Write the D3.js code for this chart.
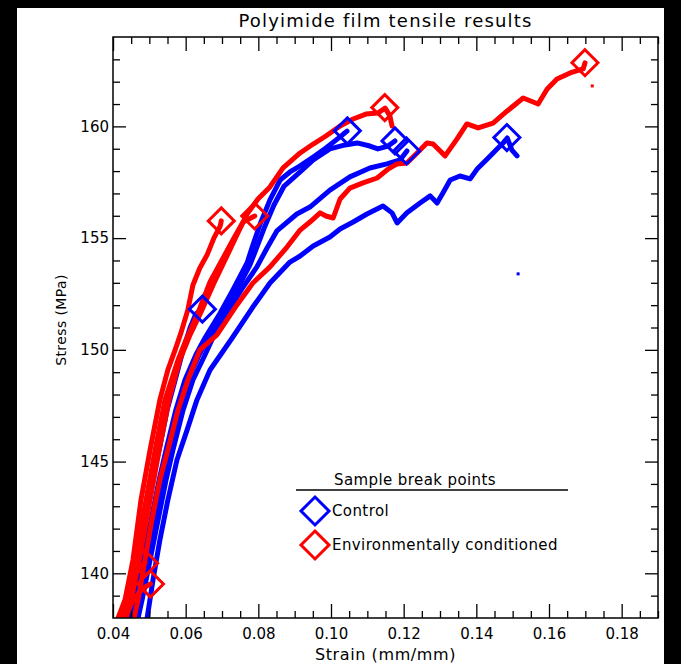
<!DOCTYPE html>
<html><head><meta charset="utf-8">
<script src="https://cdn.jsdelivr.net/npm/d3@7"></script>
<style>body{margin:0;background:#000}svg{display:block}</style>
</head><body><svg id="c" width="681" height="664"></svg>
<script>
// ---------- data ----------
const title = "Polyimide film tensile results";
const xLabel = "Strain (mm/mm)";
const yLabel = "Stress (MPa)";
const xDomain = [0.04, 0.19];
const yDomain = [138, 164];
const xTickValues = [0.04, 0.06, 0.08, 0.10, 0.12, 0.14, 0.16, 0.18];
const xTickLabels = ["0.04", "0.06", "0.08", "0.10", "0.12", "0.14", "0.16", "0.18"];
const yTickValues = [140, 145, 150, 155, 160];
const yTickLabels = ["140", "145", "150", "155", "160"];
const legendTitle = "Sample break points";
const legendLabels = ["Control", "Environmentally conditioned"];

// control samples (blue) [strain, stress]
const control1 = [[0.0441,138.00],[0.0452,138.81],[0.0469,140.60],[0.0488,142.39],[0.0507,144.18],[0.0527,145.52],[0.0549,147.31],[0.0571,148.65],[0.0593,150.00],[0.0612,150.98],[0.0628,151.61],[0.0645,151.83]];
const control2 = [[0.0450,138.00],[0.0463,138.81],[0.0483,140.60],[0.0505,142.39],[0.0527,144.18],[0.0546,145.52],[0.0573,147.31],[0.0598,148.65],[0.0628,149.77],[0.0653,150.53],[0.0695,151.65],[0.0730,152.68],[0.0769,153.89],[0.0785,154.69],[0.0805,155.63],[0.0832,156.71],[0.0860,157.60],[0.0887,157.96],[0.0915,158.23],[0.0951,158.63],[0.0986,159.03],[0.1025,159.53],[0.1044,159.79]];
const control3 = [[0.0455,138.00],[0.0469,138.81],[0.0491,140.60],[0.0513,142.39],[0.0535,144.18],[0.0554,145.52],[0.0582,147.31],[0.0606,148.65],[0.0637,149.77],[0.0661,150.53],[0.0706,151.65],[0.0741,152.68],[0.0777,153.80],[0.0796,154.60],[0.0816,155.45],[0.0843,156.48],[0.0871,157.33],[0.0915,157.96],[0.0951,158.50],[0.0997,158.99],[0.1039,159.17],[0.1072,159.26],[0.1107,159.12],[0.1129,158.99],[0.1157,159.12],[0.1176,159.35]];
const control4 = [[0.0469,138.00],[0.0480,138.81],[0.0502,140.60],[0.0524,142.39],[0.0546,144.18],[0.0565,145.52],[0.0593,147.31],[0.0620,148.65],[0.0653,149.77],[0.0681,150.76],[0.0714,151.65],[0.0758,152.81],[0.0796,153.71],[0.0824,154.56],[0.0851,155.32],[0.0906,156.08],[0.0942,156.39],[0.0997,157.15],[0.1052,157.74],[0.1107,158.14],[0.1154,158.32],[0.1190,158.50],[0.1209,158.90]];
const control5 = [[0.0494,138.00],[0.0510,139.70],[0.0529,141.49],[0.0551,143.28],[0.0576,145.07],[0.0604,146.42],[0.0631,147.76],[0.0667,149.10],[0.0728,150.53],[0.0783,151.87],[0.0832,152.99],[0.0887,153.93],[0.0915,154.20],[0.0951,154.65],[0.0997,155.05],[0.1025,155.41],[0.1061,155.72],[0.1099,156.08],[0.1143,156.44],[0.1168,156.13],[0.1182,155.68],[0.1209,156.13],[0.1245,156.57],[0.1273,156.89],[0.1292,156.57],[0.1308,157.02],[0.1328,157.60],[0.1355,157.78],[0.1383,157.65],[0.1402,158.09],[0.1430,158.54],[0.1457,158.99],[0.1474,159.26],[0.1485,159.48],[0.1498,158.94],[0.1512,158.68]];

// environmentally conditioned samples (red) [strain, stress]
const env1 = [[0.0414,138.00],[0.0433,138.81],[0.0455,140.60],[0.0477,143.28],[0.0502,145.52],[0.0529,147.76],[0.0551,149.10],[0.0571,150.00],[0.0587,150.76],[0.0606,151.79],[0.0620,152.90],[0.0639,153.66],[0.0659,154.25],[0.0678,155.01],[0.0695,155.54],[0.0698,155.77]];
const env2 = [[0.0425,138.00],[0.0439,138.81],[0.0461,140.60],[0.0491,143.28],[0.0516,145.52],[0.0543,147.76],[0.0579,149.55],[0.0601,150.44],[0.0634,151.65],[0.0667,153.04],[0.0700,154.02],[0.0730,154.92],[0.0758,155.72],[0.0790,155.99]];
const env3 = [[0.0436,138.00],[0.0450,138.81],[0.0472,140.60],[0.0502,143.28],[0.0527,145.52],[0.0554,147.76],[0.0584,149.55],[0.0612,150.67],[0.0645,151.79],[0.0678,152.99],[0.0711,154.11],[0.0741,155.14],[0.0769,156.08],[0.0799,156.75],[0.0832,157.29],[0.0868,158.14],[0.0915,158.81],[0.0951,159.21],[0.0986,159.57],[0.1025,160.02],[0.1061,160.33],[0.1096,160.55],[0.1129,160.60],[0.1149,160.82],[0.1162,160.47],[0.1168,160.02]];
const env4 = [[0.0458,138.00],[0.0469,138.81],[0.0488,140.60],[0.0507,142.39],[0.0529,144.18],[0.0551,145.52],[0.0579,147.31],[0.0606,148.65],[0.0639,150.00],[0.0686,150.67],[0.0741,152.01],[0.0785,152.99],[0.0832,153.71],[0.0879,154.60],[0.0915,155.36],[0.0942,155.72],[0.0970,156.13],[0.0986,155.99],[0.1006,155.90],[0.1025,156.75],[0.1052,157.24],[0.1088,157.47],[0.1127,157.69],[0.1157,158.09],[0.1182,158.32],[0.1209,158.36],[0.1237,158.81],[0.1264,159.26],[0.1281,159.21],[0.1314,158.68],[0.1347,159.44],[0.1374,160.11],[0.1405,159.93],[0.1446,160.15],[0.1485,160.69],[0.1529,161.27],[0.1570,161.00],[0.1595,161.67],[0.1622,162.12],[0.1658,162.39],[0.1694,162.57],[0.1699,162.84]];
const env5 = [[0.0419,138.00],[0.0436,138.90],[0.0452,139.70],[0.0469,140.24],[0.0488,140.47]];
const env6 = [[0.0433,138.00],[0.0450,138.63],[0.0469,139.08],[0.0485,139.35],[0.0503,139.53]];

// stray data points
const controlStray = [[0.1515,153.40]];
const envStray = [[0.1719,161.81]];

// break points
const controlBreaks = [[0.0646,151.82],[0.1045,159.80],[0.1176,159.35],[0.1208,158.90],[0.1484,159.50]];
const envBreaks = [[0.0698,155.77],[0.0790,155.99],[0.1148,160.84],[0.1699,162.85],[0.0487,140.45],[0.0503,139.52]];

// ---------- drawing ----------
const controlCurves = [control1, control2, control3, control4, control5];
const envCurves = [env1, env2, env3, env4, env5, env6];
const BLUE = "#0000ff", RED = "#ff0000";
const FONT = "DejaVu Sans, sans-serif";
const L = 113, R = 658, T = 37, B = 618;

const svg = d3.select("#c");
svg.append("rect").attr("x", 0).attr("y", 0).attr("width", 681).attr("height", 664).attr("fill", "#000");
svg.append("rect").attr("x", 17).attr("y", 8).attr("width", 647).attr("height", 656).attr("fill", "#fff");

const x = d3.scaleLinear().domain(xDomain).range([L, R]);
const y = d3.scaleLinear().domain(yDomain).range([B, T]);

const plot = svg.append("g");
const clip = svg.append("clipPath").attr("id", "clip");
clip.append("rect").attr("x", L).attr("y", T).attr("width", R - L).attr("height", B - T);
const curvesG = plot.append("g").attr("clip-path", "url(#clip)");

const line = d3.line().x(d => x(d[0])).y(d => y(d[1])).curve(d3.curveLinear);

function drawCurves(list, color) {
  curvesG.selectAll(null).data(list).enter().append("path")
    .attr("d", line).attr("fill", "none").attr("stroke", color)
    .attr("stroke-width", 5).attr("stroke-linejoin", "round").attr("stroke-linecap", "round");
}
drawCurves(controlCurves, BLUE);
drawCurves(envCurves, RED);

function drawStray(list, color) {
  curvesG.selectAll(null).data(list).enter().append("rect")
    .attr("x", d => x(d[0]) - 1.5).attr("y", d => y(d[1]) - 1.5)
    .attr("width", 3).attr("height", 3).attr("fill", color);
}
drawStray(controlStray, BLUE);
drawStray(envStray, RED);

const H = 13;
const diamond = `M0,${-H}L${H},0L0,${H}L${-H},0Z`;
function drawBreaks(list, color) {
  plot.selectAll(null).data(list).enter().append("path")
    .attr("d", diamond)
    .attr("transform", d => `translate(${x(d[0])},${y(d[1])})`)
    .attr("fill", "none").attr("stroke", color).attr("stroke-width", 3)
    .attr("stroke-linejoin", "miter");
}
drawBreaks(controlBreaks, BLUE);
drawBreaks(envBreaks, RED);

// axes (ticks pointing inward, mirrored on all sides)
const xMinor = d3.range(0.045, 0.19, 0.005).filter(v => !xTickValues.some(t => Math.abs(t - v) < 1e-9));
const yMinor = d3.range(139, 164, 1).filter(v => yTickValues.indexOf(v) < 0);

function styleAxis(g) {
  g.select(".domain").remove();
  g.selectAll("line").attr("stroke", "#000").attr("stroke-width", 1.3);
  g.selectAll("text").attr("fill", "#000").attr("font-family", FONT).attr("font-size", 15);
}

const bottom = svg.append("g").attr("transform", `translate(0,${B})`)
  .call(d3.axisBottom(x).tickValues(xTickValues).tickFormat((d, i) => xTickLabels[i]).tickSize(-14).tickPadding(7));
styleAxis(bottom);
bottom.selectAll("text").attr("dy", "0.71em").attr("y", 10);
svg.append("g").attr("transform", `translate(0,${B})`)
  .call(d3.axisBottom(x).tickValues(xMinor).tickFormat("").tickSize(-7)).call(styleAxis);
svg.append("g").attr("transform", `translate(0,${T})`)
  .call(d3.axisTop(x).tickValues(xTickValues).tickFormat("").tickSize(-14)).call(styleAxis);
svg.append("g").attr("transform", `translate(0,${T})`)
  .call(d3.axisTop(x).tickValues(xMinor).tickFormat("").tickSize(-7)).call(styleAxis);

const left = svg.append("g").attr("transform", `translate(${L},0)`)
  .call(d3.axisLeft(y).tickValues(yTickValues).tickFormat((d, i) => yTickLabels[i]).tickSize(-13).tickPadding(4));
styleAxis(left);
svg.append("g").attr("transform", `translate(${L},0)`)
  .call(d3.axisLeft(y).tickValues(yMinor).tickFormat("").tickSize(-7)).call(styleAxis);
svg.append("g").attr("transform", `translate(${R},0)`)
  .call(d3.axisRight(y).tickValues(yTickValues).tickFormat("").tickSize(-13)).call(styleAxis);
svg.append("g").attr("transform", `translate(${R},0)`)
  .call(d3.axisRight(y).tickValues(yMinor).tickFormat("").tickSize(-7)).call(styleAxis);

svg.append("rect").attr("x", L).attr("y", T).attr("width", R - L).attr("height", B - T)
  .attr("fill", "none").attr("stroke", "#000").attr("stroke-width", 1.5);

// titles
svg.append("text").attr("x", (L + R) / 2).attr("y", 27).attr("text-anchor", "middle")
  .attr("font-family", FONT).attr("font-size", 18).attr("letter-spacing", 1.2).text(title);
svg.append("text").attr("x", (L + R) / 2).attr("y", 660).attr("text-anchor", "middle")
  .attr("font-family", FONT).attr("font-size", 16).attr("letter-spacing", 0.6).text(xLabel);
svg.append("text").attr("transform", `translate(66,320) rotate(-90)`).attr("text-anchor", "middle")
  .attr("font-family", FONT).attr("font-size", 14).attr("letter-spacing", 0.4).text(yLabel);

// legend
const lg = svg.append("g");
lg.append("text").attr("x", 415).attr("y", 485).attr("text-anchor", "middle")
  .attr("font-family", FONT).attr("font-size", 15).attr("letter-spacing", 0.4).text(legendTitle);
lg.append("line").attr("x1", 296).attr("x2", 568).attr("y1", 490).attr("y2", 490)
  .attr("stroke", "#000").attr("stroke-width", 1.5);
const legendColors = [BLUE, RED];
const legendY = [511, 545];
legendLabels.forEach((lab, i) => {
  lg.append("path").attr("d", `M0,-14L14,0L0,14L-14,0Z`).attr("transform", `translate(315,${legendY[i]})`)
    .attr("fill", "none").attr("stroke", legendColors[i]).attr("stroke-width", 3);
  lg.append("text").attr("x", 332).attr("y", legendY[i] + 5).attr("font-family", FONT)
    .attr("font-size", 15).attr("letter-spacing", 0.4).text(lab);
});
</script>
</body></html>
